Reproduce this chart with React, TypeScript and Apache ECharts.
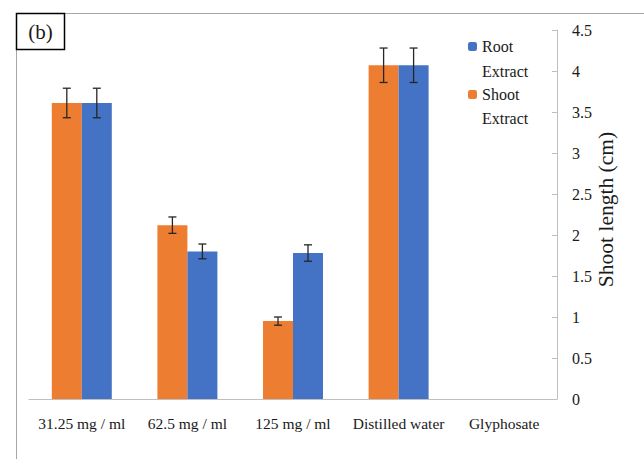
import React, { useEffect, useRef } from "react";
import * as echarts from "echarts";

const categories = ["31.25 mg / ml", "62.5 mg / ml", "125 mg / ml", "Distilled water", "Glyphosate"];
const shootValues = [3.61, 2.12, 0.95, 4.07, 0];
const shootErrors = [0.18, 0.1, 0.05, 0.21, 0];
const rootValues = [3.61, 1.8, 1.78, 4.07, 0];
const rootErrors = [0.18, 0.09, 0.1, 0.21, 0];
const yTicks = { min: 0, max: 4.5, interval: 0.5 };
const legendNames = ["Root Extract", "Shoot Extract"];

const SERIF = "Liberation Serif";
const BAR_FRAC = 0.284;
const TEXT = "#1a1a1a";

function errorSeries(name: string, values: number[], errs: number[], sign: number) {
  return {
    type: "custom",
    name,
    silent: true,
    z: 10,
    encode: { x: 0, y: 1 },
    data: values.map((v, i) => [i, v, errs[i]]),
    renderItem: (params: any, api: any) => {
      const x = api.value(0);
      const v = api.value(1);
      const e = api.value(2);
      if (!v) return null;
      const band = api.size([1, 0])[0];
      const off = ((band * BAR_FRAC) / 2) * sign;
      const top = api.coord([x, v + e]);
      const bot = api.coord([x, v - e]);
      const cx = top[0] + off;
      const cap = 4;
      const style = { stroke: "#262626", lineWidth: 1.3 };
      return {
        type: "group",
        children: [
          { type: "line", shape: { x1: cx, y1: top[1], x2: cx, y2: bot[1] }, style },
          { type: "line", shape: { x1: cx - cap, y1: top[1], x2: cx + cap, y2: top[1] }, style },
          { type: "line", shape: { x1: cx - cap, y1: bot[1], x2: cx + cap, y2: bot[1] }, style },
        ],
      };
    },
  };
}

export default function App() {
  const ref = useRef<HTMLDivElement>(null);
  useEffect(() => {
    if (!ref.current) return;
    const chart = echarts.init(ref.current, undefined, { renderer: "svg" });
    chart.setOption({
      animation: false,
      backgroundColor: "#ffffff",
      textStyle: { fontFamily: SERIF },
      grid: { left: 29, right: 87, top: 30, bottom: 60 },
      legend: {
        orient: "vertical",
        left: 468,
        top: 34.5,
        padding: 0,
        itemWidth: 9,
        itemHeight: 9,
        itemGap: 24,
        selectedMode: false,
        data: legendNames,
        formatter: (n: string) => n.split(" ")[0],
        textStyle: {
          fontFamily: SERIF,
          fontSize: 16,
          color: TEXT,
          lineHeight: 24,
        },
      },
      xAxis: {
        type: "category",
        data: categories,
        axisTick: { show: false },
        axisLine: { lineStyle: { color: "#bfbfbf", width: 1 } },
        axisLabel: { fontFamily: SERIF, fontSize: 15.5, color: TEXT, margin: 16, interval: 0 },
      },
      yAxis: {
        type: "value",
        position: "right",
        min: yTicks.min,
        max: yTicks.max,
        interval: yTicks.interval,
        name: "Shoot length (cm)",
        nameLocation: "middle",
        nameGap: 38,
        nameMoveOverlap: false,
        nameRotate: 90,
        nameTextStyle: { fontFamily: SERIF, fontSize: 21.5, color: TEXT, padding: [0, 0, 0, 10] },
        axisLine: { show: true, lineStyle: { color: "#bfbfbf", width: 1 } },
        axisTick: { show: true, inside: true, length: 5, lineStyle: { color: "#bfbfbf" } },
        splitLine: { show: false },
        axisLabel: { fontFamily: SERIF, fontSize: 16, color: TEXT, margin: 15 },
      },
      series: [
        {
          type: "bar",
          name: legendNames[1],
          data: shootValues,
          barWidth: BAR_FRAC * 100 + "%",
          barGap: "0%",
          itemStyle: { color: "#ED7D31" },
        },
        {
          type: "bar",
          name: legendNames[0],
          data: rootValues,
          barWidth: BAR_FRAC * 100 + "%",
          barGap: "0%",
          itemStyle: { color: "#4472C4" },
        },
        errorSeries("Shoot err", shootValues, shootErrors, -1),
        errorSeries("Root err", rootValues, rootErrors, 1),
      ],
      graphic: [
        {
          type: "rect",
          shape: { x: 16.5, y: 13.5, width: 700, height: 500 },
          style: { fill: "none", stroke: "#a6a6a6", lineWidth: 1 },
          silent: true,
        },
        {
          type: "rect",
          shape: { x: 16.5, y: 13.5, width: 48, height: 36 },
          style: { fill: "#ffffff", stroke: "#000000", lineWidth: 1.5 },
          silent: true,
        },
        {
          type: "text",
          x: 40.5,
          y: 32,
          style: {
            text: "(b)",
            fontFamily: SERIF,
            fontSize: 21,
            fill: TEXT,
            align: "center",
            verticalAlign: "middle",
          },
          silent: true,
        },
        {
          type: "text",
          x: 482,
          y: 71,
          style: { text: "Extract", fontFamily: SERIF, fontSize: 16, fill: TEXT, verticalAlign: "middle" },
          silent: true,
        },
        {
          type: "text",
          x: 482,
          y: 118,
          style: { text: "Extract", fontFamily: SERIF, fontSize: 16, fill: TEXT, verticalAlign: "middle" },
          silent: true,
        },
      ],
    });
    return () => chart.dispose();
  }, []);
  return <div ref={ref} style={{ position: "fixed", left: 0, top: 0, width: 644, height: 459 }} />;
}
